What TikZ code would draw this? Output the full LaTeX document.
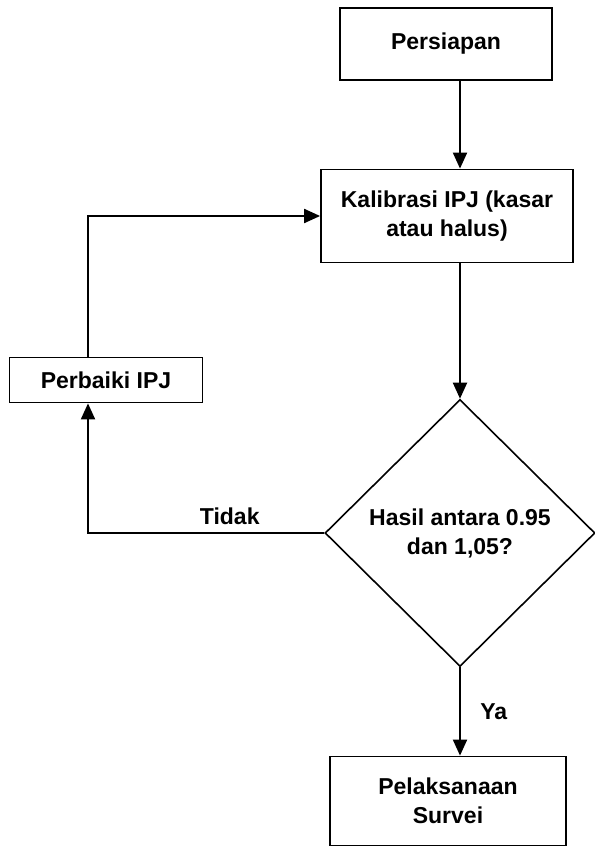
\documentclass[tikz,border=0pt]{standalone}
\usepackage{fontspec}
\setmainfont{Liberation Sans}
\usetikzlibrary{shapes.geometric,arrows.meta}

\begin{document}
\begin{tikzpicture}[
  x=1pt, y=-1pt,
  font=\fontsize{23}{29}\selectfont\bfseries,
  pbox/.style={rectangle, draw=black, line width=1.8pt, align=center, inner sep=0pt},
  dbox/.style={diamond, draw=black, line width=1.6pt, align=center, inner sep=0pt, minimum width=270pt, minimum height=267pt},
  arw/.style={-{Triangle[length=16pt,width=14pt]}, line width=2pt},
  lline/.style={-, line width=2pt}
  ]

\useasboundingbox (0,0) rectangle (594,850);

\node [pbox, minimum width=212pt, minimum height=72pt] (persiapan) at (446,44) {Persiapan};
\node [pbox, minimum width=252pt, minimum height=93pt] (kalibrasi) at (447,216) {Kalibrasi IPJ (kasar\\atau halus)};
\node [dbox] (hasil) at (460,533) {Hasil antara 0.95\\dan 1,05?};
\node [pbox, minimum width=236pt, minimum height=89pt] (survei) at (448,801) {Pelaksanaan\\Survei};
\node [pbox, minimum width=193pt, minimum height=45pt] (perbaiki) at (106,380) {Perbaiki IPJ};
\coordinate (lp) at (88,0);

\draw [arw] (persiapan.south -| hasil.north) -- (kalibrasi.north -| hasil.north);
\draw [arw] (kalibrasi.south -| hasil.north) -- (hasil.north);
\draw [arw] (hasil.south) -- node [midway, right=16pt] {Ya} (survei.north -| hasil.south);
\draw [arw] (hasil.west) -- node [pos=0.4, above=4pt] {Tidak} (hasil.west -| lp) -- (perbaiki.south -| lp);
\draw [arw] (perbaiki.north -| lp) |- (kalibrasi.west);

\end{tikzpicture}
\end{document}
